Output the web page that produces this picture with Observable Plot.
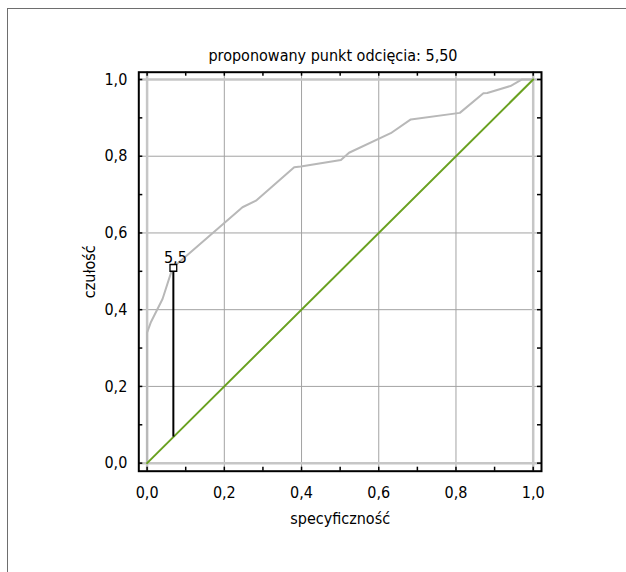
<!DOCTYPE html>
<html>
<head>
<meta charset="utf-8">
<script src="https://cdn.jsdelivr.net/npm/d3@7"></script>
<script src="https://cdn.jsdelivr.net/npm/@observablehq/plot@0.6"></script>
<style>
  html, body { margin: 0; padding: 0; background: #fff; }
  #wrap { position: relative; width: 626px; height: 572px; overflow: hidden;
          font-family: "DejaVu Sans Condensed", "DejaVu Sans", sans-serif; color: #000; }
  #border { position: absolute; left: 7px; top: 8px; width: 700px; height: 700px;
            border-top: 1.5px solid #6e6e6e; border-left: 1.5px solid #6e6e6e; z-index: 0; }
  #title { position: relative; z-index: 1; box-sizing: border-box; height: 64px; padding-top: 47.5px;
           line-height: 16px; font-size: 16px; width: 666px; text-align: center; white-space: nowrap; }
  #chart { position: relative; z-index: 1; display: block; }
</style>
</head>
<body>
<div id="wrap">
  <div id="border"></div>
  <div id="title">proponowany punkt odcięcia: 5,50</div>
  <div id="chart"></div>
</div>
<script>
// ---- data ----
const rocX = [0, 0, 0.010, 0.040, 0.066, 0.247, 0.282, 0.381, 0.398, 0.502, 0.523, 0.631, 0.683, 0.810, 0.871, 0.881, 0.941, 0.971, 1.0];
const rocY = [0, 0.340, 0.368, 0.428, 0.509, 0.667, 0.684, 0.771, 0.773, 0.790, 0.809, 0.860, 0.896, 0.913, 0.964, 0.965, 0.983, 1.0, 1.0];
const diagX = [0, 1];
const diagY = [0, 1];
const cutX = [0.068];
const cutY = [0.509];
const cutLabel = ["5,5"];
const majorTicks = [0, 0.2, 0.4, 0.6, 0.8, 1.0];
const innerGrid = [0.2, 0.4, 0.6, 0.8];
const edgeGrid = [0, 1.0];
const minorTicks = [0, 0.1, 0.2, 0.3, 0.4, 0.5, 0.6, 0.7, 0.8, 0.9, 1.0];
const xLabel = "specyficzność";
const yLabel = "czułość";

// ---- tables built from the arrays ----
const roc = rocX.map((x, i) => ({x, y: rocY[i]}));
const diag = diagX.map((x, i) => ({x, y: diagY[i]}));
const cut = cutX.map((x, i) => ({x, y: cutY[i], label: cutLabel[i]}));

const W = 626, H = 508;
const mL = 138.3, mR = 85, mT = 7.7, mB = 101.3;
const fw = W - mL - mR, fh = H - mT - mB;
const fmt = d => d.toFixed(1).replace(".", ",");
const tickLen = 4;

const chart = Plot.plot({
  width: W, height: H,
  marginLeft: mL, marginRight: mR, marginTop: mT, marginBottom: mB,
  style: { fontFamily: '"DejaVu Sans Condensed", "DejaVu Sans", sans-serif', fontSize: "16px", color: "#000", background: "transparent", overflow: "visible" },
  x: { domain: [-0.0215, 1.0215], ticks: majorTicks, tickFormat: fmt, tickSize: 0, tickPadding: 15,
       label: xLabel, labelAnchor: "center", labelOffset: 52.5, labelArrow: "none" },
  y: { domain: [-0.021, 1.019], ticks: majorTicks, tickFormat: fmt, tickSize: 0, tickPadding: 11.5,
       label: yLabel, labelAnchor: "center", labelOffset: 55, labelArrow: "none" },
  marks: [
    Plot.ruleX(innerGrid, { x: d => d, stroke: "#a3a3a3", strokeWidth: 1 }),
    Plot.ruleY(innerGrid, { y: d => d, stroke: "#a3a3a3", strokeWidth: 1 }),
    Plot.ruleX(edgeGrid, { x: d => d, stroke: "#c6c6c6", strokeWidth: 2.5 }),
    Plot.ruleY(edgeGrid, { y: d => d, stroke: "#c6c6c6", strokeWidth: 2.5 }),
    Plot.line(roc, { x: "x", y: "y", stroke: "#b8b8b8", strokeWidth: 2 }),
    Plot.line(diag, { x: "x", y: "y", stroke: "#6aa121", strokeWidth: 2 }),
    Plot.ruleX(cut, { x: "x", y1: "x", y2: "y", stroke: "#000", strokeWidth: 2 }),
    Plot.dot(cut, { x: "x", y: "y", symbol: "square", r: 3.8, stroke: "#000", strokeWidth: 1.3, fill: "#fff" }),
    Plot.text(cut, { x: "x", y: "y", text: "label", dx: 2, dy: -5, lineAnchor: "bottom", fontSize: 16, fill: "#000" }),
    Plot.frame({ stroke: "#000", strokeWidth: 2 }),
    // inward ticks on all four sides
    Plot.ruleX(minorTicks, { x: d => d, insetTop: fh - tickLen, stroke: "#000", strokeWidth: 1.5 }),
    Plot.ruleX(minorTicks, { x: d => d, insetBottom: fh - tickLen, stroke: "#000", strokeWidth: 1.5 }),
    Plot.ruleY(minorTicks, { y: d => d, insetRight: fw - tickLen, stroke: "#000", strokeWidth: 1.5 }),
    Plot.ruleY(minorTicks, { y: d => d, insetLeft: fw - tickLen, stroke: "#000", strokeWidth: 1.5 })
  ]
});
document.getElementById("chart").appendChild(chart);
</script>
</body>
</html>
